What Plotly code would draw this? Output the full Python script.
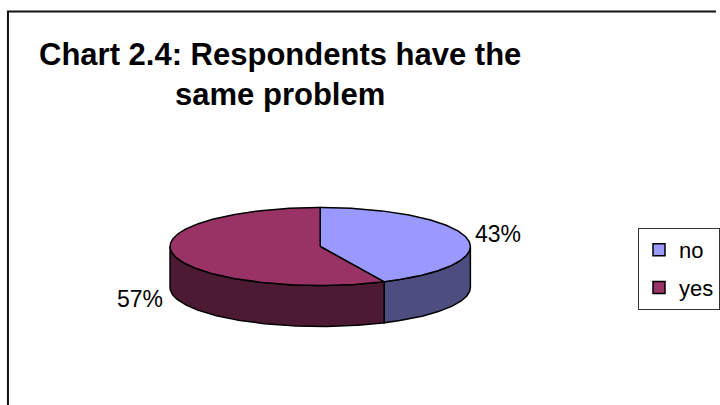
import numpy as np
import plotly.graph_objects as go

# Survey answers, in percent
categories = ["no", "yes"]
shares = [43, 57]

top_colors = ["#9999FF", "#993366"]
side_colors = ["#4D4D80", "#4D1A33"]

title_lines = ["Chart 2.4: Respondents have the", "same problem"]

# Page and 3-D disc geometry (pixel units on hidden axes)
W, H = 720, 405
CX, CY = 322, 246.5      # centre of the top face
RX, RY = 151, 39         # radii of the top ellipse
DEPTH = 41               # thickness of the disc
FONT = "Liberation Sans, Arial, sans-serif"


def rim(theta, drop=0.0):
    return CX + RX * np.cos(theta), CY - RY * np.sin(theta) + drop


def arc(a, b, n=120):
    return np.linspace(a, b, max(int(abs(b - a) / (2 * np.pi) * n * 4), 8))


fig = go.Figure()

total = float(sum(shares))
bounds = []
start = np.pi / 2
for s in shares:
    end = start - 2 * np.pi * s / total
    bounds.append((start, end))
    start = end

# Visible front wall of each slice (lower half of the ellipse)
for (a, b), col in zip(bounds, side_colors):
    lo, hi = min(a, b), max(a, b)
    for k in range(-3, 3):
        v0, v1 = max(lo, -np.pi + 2 * np.pi * k), min(hi, 2 * np.pi * k)
        if v1 <= v0:
            continue
        t = arc(v0, v1)
        xt, yt = rim(t)
        xb, yb = rim(t[::-1], DEPTH)
        fig.add_trace(go.Scatter(
            x=np.r_[xt, xb, xt[:1]], y=np.r_[yt, yb, yt[:1]],
            mode="lines", fill="toself", fillcolor=col,
            line=dict(color="#000000", width=1.5),
            hoverinfo="skip", showlegend=False))

# Top face wedges
for (a, b), col in zip(bounds, top_colors):
    t = arc(a, b)
    xs, ys = rim(t)
    fig.add_trace(go.Scatter(
        x=np.r_[CX, xs, CX], y=np.r_[CY, ys, CY],
        mode="lines", fill="toself", fillcolor=col,
        line=dict(color="#000000", width=1.5),
        hoverinfo="skip", showlegend=False))

# Legend swatches
for i, (name, col) in enumerate(zip(categories, top_colors)):
    fig.add_trace(go.Scatter(
        x=[None], y=[None], mode="markers", name=name, legendgroup=name,
        marker=dict(symbol="square", size=12, color=col,
                    line=dict(color="#000000", width=1.5))))

# Percentage labels outside the disc
label_pos = [dict(x=476, y=234, xanchor="left"),
             dict(x=166, y=298.5, xanchor="right")]
for s, p in zip(shares, label_pos):
    fig.add_annotation(text=f"{s}%", x=p["x"], y=p["y"], xref="x", yref="y",
                       xanchor=p["xanchor"], yanchor="middle", showarrow=False,
                       font=dict(family=FONT, size=23, color="#000000"))

fig.add_annotation(text="<br>".join(title_lines), x=282, y=74, xref="x", yref="y",
                   xanchor="center", yanchor="middle", align="center",
                   showarrow=False,
                   font=dict(family=FONT, size=31, color="#000000"),
                   )

# Chart-area frame
fig.add_shape(type="rect", xref="x", yref="y", x0=8, y0=11.5, x1=740, y1=430,
              line=dict(color="#111111", width=2), layer="below")

fig.update_layout(
    width=W, height=H, margin=dict(l=0, r=0, t=0, b=0),
    paper_bgcolor="#FFFFFF", plot_bgcolor="#FFFFFF",
    xaxis=dict(range=[0, W], visible=False, fixedrange=True),
    yaxis=dict(range=[H, 0], visible=False, fixedrange=True),
    showlegend=True,
    legend=dict(x=642 / W, y=1 - 228 / H, xanchor="left", yanchor="top",
                bordercolor="#333333", borderwidth=1, bgcolor="#FFFFFF",
                font=dict(family=FONT, size=22, color="#000000"),
                tracegroupgap=6, itemsizing="trace"),
)
fig.update_annotations(font_family=FONT)
fig.layout.annotations[-1].font.update(weight="bold")

fig.write_html("out.html")
